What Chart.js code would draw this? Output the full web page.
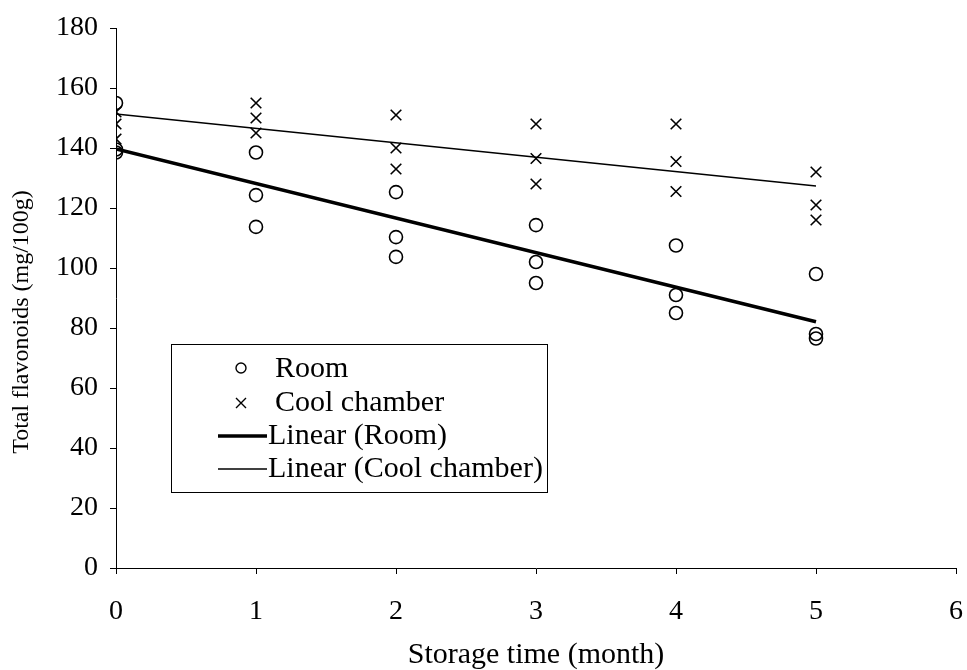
<!DOCTYPE html>
<html>
<head>
<meta charset="utf-8">
<script src="https://cdn.jsdelivr.net/npm/chart.js@4.4.1/dist/chart.umd.min.js"></script>
<style>
  html, body { margin: 0; padding: 0; background: #fff; }
  #c { display: block; }
</style>
</head>
<body>
<canvas id="c" width="967" height="670"></canvas>
<script>
// ---- Data ----
const months = [0, 1, 2, 3, 4, 5];
const roomRep1 = [155, 138.5, 125.3, 114.3, 107.5, 98];
const roomRep2 = [139.5, 124.3, 110.3, 102, 91, 78];
const roomRep3 = [138.5, 113.7, 103.7, 95, 85, 76.5];
const coolRep1 = [152, 155, 151, 148, 148, 132];
const coolRep2 = [148, 150, 140, 136.5, 135.5, 121];
const coolRep3 = [143, 145, 133, 128, 125.5, 116];
const xTicks = [0, 1, 2, 3, 4, 5, 6];
const yTicks = [0, 20, 40, 60, 80, 100, 120, 140, 160, 180];
const labels = ['Room', 'Cool chamber', 'Linear (Room)', 'Linear (Cool chamber)'];
const yTitle = 'Total flavonoids (mg/100g)';
const xTitle = 'Storage time (month)';

function points(reps) {
  const out = [];
  reps.forEach(r => r.forEach((v, i) => out.push({ x: months[i], y: v })));
  return out;
}
function trend(pts) {
  const n = pts.length;
  const mx = pts.reduce((s, p) => s + p.x, 0) / n;
  const my = pts.reduce((s, p) => s + p.y, 0) / n;
  let sxy = 0, sxx = 0;
  pts.forEach(p => { sxy += (p.x - mx) * (p.y - my); sxx += (p.x - mx) * (p.x - mx); });
  const b = sxy / sxx, a = my - b * mx;
  const x0 = months[0], x1 = months[months.length - 1];
  return [{ x: x0, y: a + b * x0 }, { x: x1, y: a + b * x1 }];
}
const roomPts = points([roomRep1, roomRep2, roomRep3]);
const coolPts = points([coolRep1, coolRep2, coolRep3]);

const FONT = "'Liberation Serif', 'Times New Roman', serif";

const legendPlugin = {
  id: 'boxLegend',
  afterDraw(chart) {
    const ctx = chart.ctx;
    ctx.save();
    // y-axis title (placed slightly below the axis centre, as in the reference)
    ctx.save();
    ctx.translate(22, 322);
    ctx.rotate(-Math.PI / 2);
    ctx.font = '24px ' + FONT;
    ctx.fillStyle = '#000';
    ctx.textAlign = 'center';
    ctx.textBaseline = 'middle';
    ctx.fillText(yTitle, 0, 0);
    ctx.restore();

    ctx.strokeStyle = '#000';
    ctx.lineWidth = 1;
    ctx.strokeRect(171.5, 344.5, 376, 148);
    ctx.font = '30px ' + FONT;
    ctx.fillStyle = '#000';
    ctx.textBaseline = 'middle';
    ctx.textAlign = 'left';
    const rows = [369, 403, 436, 469];
    ctx.lineWidth = 1.4;
    ctx.beginPath(); ctx.arc(241, rows[0] - 1, 5, 0, Math.PI * 2); ctx.stroke();
    ctx.beginPath();
    ctx.moveTo(236, rows[1] - 5); ctx.lineTo(246, rows[1] + 5);
    ctx.moveTo(246, rows[1] - 5); ctx.lineTo(236, rows[1] + 5);
    ctx.stroke();
    ctx.lineWidth = 3.5;
    ctx.beginPath(); ctx.moveTo(218, rows[2]); ctx.lineTo(267, rows[2]); ctx.stroke();
    ctx.lineWidth = 1.5;
    ctx.beginPath(); ctx.moveTo(218, rows[3]); ctx.lineTo(267, rows[3]); ctx.stroke();
    labels.forEach((t, i) => ctx.fillText(t, i < 2 ? 275 : 268, rows[i]));
    ctx.restore();
  }
};

new Chart(document.getElementById('c'), {
  type: 'scatter',
  data: {
    datasets: [
      { label: labels[0], data: roomPts, pointStyle: 'circle', pointRadius: 6.5, pointBorderWidth: 1.6,
        borderColor: '#000', backgroundColor: 'rgba(0,0,0,0)', showLine: false, order: 1 },
      { label: labels[1], data: coolPts, pointStyle: 'crossRot', pointRadius: 7.5, pointBorderWidth: 1.6,
        borderColor: '#000', backgroundColor: 'rgba(0,0,0,0)', showLine: false, order: 1 },
      { label: labels[2], data: trend(roomPts), showLine: true, pointRadius: 0, borderColor: '#000',
        borderWidth: 3.5, fill: false, order: 2 },
      { label: labels[3], data: trend(coolPts), showLine: true, pointRadius: 0, borderColor: '#000',
        borderWidth: 1.5, fill: false, order: 2 }
    ]
  },
  options: {
    responsive: false,
    animation: false,
    events: [],
    layout: { padding: { top: 28, right: 11, left: 0, bottom: 0 } },
    plugins: { legend: { display: false }, tooltip: { enabled: false } },
    scales: {
      x: {
        type: 'linear', min: 0, max: 6,
        afterBuildTicks(s) { s.ticks = xTicks.map(v => ({ value: v })); },
        afterFit(s) { s.height = 102; s.paddingLeft = 0; s.paddingRight = 0; },
        grid: { display: true, drawOnChartArea: false, drawTicks: true, tickLength: 6, color: '#000', lineWidth: 1 },
        border: { display: true, color: '#000', width: 1 },
        ticks: { color: '#000', font: { family: FONT, size: 28 }, padding: 21, maxRotation: 0 },
        title: { display: true, text: xTitle, color: '#000', font: { family: FONT, size: 30, lineHeight: 1.0 }, padding: { top: 10, bottom: 0 } }
      },
      y: {
        type: 'linear', min: 0, max: 180,
        afterBuildTicks(s) { s.ticks = yTicks.map(v => ({ value: v })); },
        afterFit(s) { s.width = 116; s.paddingTop = 0; s.paddingBottom = 0; },
        grid: { display: true, drawOnChartArea: false, drawTicks: true, tickLength: 6, color: '#000', lineWidth: 1 },
        border: { display: true, color: '#000', width: 1 },
        ticks: { color: '#000', font: { family: FONT, size: 28 }, padding: 12 },
        title: { display: false }
      }
    }
  },
  plugins: [legendPlugin]
});
</script>
</body>
</html>
